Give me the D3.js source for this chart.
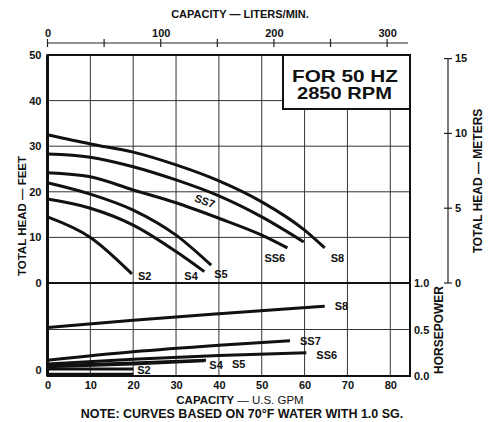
<!DOCTYPE html>
<html>
<head>
<meta charset="utf-8">
<script src="https://cdn.jsdelivr.net/npm/d3@7"></script>
<style>
  body { margin: 0; background: #fff; }
  svg { display: block; font-family: "Liberation Sans", Arial, sans-serif; }
  text { fill: #111; font-weight: bold; }
</style>
</head>
<body>
<script>
// head curves: [gpm, feet]
var headS8  = [[0,32.5],[10,30.5],[20,28.7],[30,25.9],[40,22.4],[50,17.8],[60,11.6],[64.7,7.7]];
var headSS7 = [[0,28.3],[10,27.6],[20,25.5],[30,22.6],[40,19.1],[50,14.5],[59.8,9.0]];
var headSS6 = [[0,24.2],[10,23.3],[20,20.4],[30,17.6],[40,14.2],[50,10.5],[56,7.7]];
var headS5  = [[0,22.0],[10,19.5],[20,16.0],[30,10.5],[38.2,3.9]];
var headS4  = [[0,18.4],[10,16.4],[20,12.7],[30,6.9],[36.6,2.5]];
var headS2  = [[0,14.5],[10,10.0],[19.7,2.0]];

// horsepower curves: [gpm, hp]
var hpS8  = [[0,0.52],[20,0.60],[40,0.67],[64.7,0.75]];
var hpSS7 = [[0,0.17],[20,0.26],[40,0.33],[56.6,0.38]];
var hpSS6 = [[0,0.13],[20,0.18],[40,0.22],[60.4,0.25]];
var hpS5  = [[0,0.11],[20,0.14],[37,0.17]];
var hpS4  = [[0,0.10],[20,0.13],[36.6,0.165]];
var hpS2  = [[0,0.075],[20,0.075]];
var hpS2b = [[0,0.02],[20,0.02]];

var gpmTicks = [0,10,20,30,40,50,60,70,80];
var ftTicks = [0,10,20,30,40,50];
var hpTicks = [0,0.5,1];
var lpmLabels = [0,100,200,300];
var lpmMarks = [0,50,100,150,200,250,300];
var meterTicks = [0,5,10,15];

width = 492; height = 422;

var svg = d3.select("body").append("svg")
    .attr("width", width).attr("height", height);

var x = d3.scaleLinear().domain([0, 84.6]).range([47.5, 410]);
var yFt = d3.scaleLinear().domain([0, 50]).range([283, 55]);
var yHp = d3.scaleLinear().domain([0, 1]).range([376, 283]);
var xL = d3.scaleLinear().domain([0, 84.6 * 3.785]).range(x.range());
var yM = d3.scaleLinear().domain([0, 15]).range([yFt(0), yFt(15 * 3.2808)]);

// grid
var grid = svg.append("g").attr("stroke", "#333").attr("stroke-width", 1);
grid.selectAll(".v").data(gpmTicks.slice(1)).join("line")
    .attr("x1", d => x(d)).attr("x2", d => x(d))
    .attr("y1", yFt(50)).attr("y2", yHp(0));
grid.selectAll(".h").data(ftTicks.slice(1, -1)).join("line")
    .attr("x1", x(0)).attr("x2", x.range()[1])
    .attr("y1", d => yFt(d)).attr("y2", d => yFt(d));
grid.append("line")
    .attr("x1", x(0)).attr("x2", x.range()[1])
    .attr("y1", yHp(0.5)).attr("y2", yHp(0.5));

// rating box
svg.append("rect")
    .attr("x", 283).attr("y", yFt(50)).attr("width", x.range()[1] - 283).attr("height", 54)
    .attr("fill", "#fff").attr("stroke", "#111").attr("stroke-width", 2);
svg.append("text").attr("x", 292).attr("y", 82)
    .attr("textLength", 106).attr("lengthAdjust", "spacingAndGlyphs")
    .style("font-size", "16.5px").text("FOR 50 HZ");
svg.append("text").attr("x", 297).attr("y", 99)
    .attr("textLength", 95).attr("lengthAdjust", "spacingAndGlyphs")
    .style("font-size", "16.5px").text("2850 RPM");

// frame
svg.append("rect")
    .attr("x", x(0)).attr("y", yFt(50))
    .attr("width", x.range()[1] - x(0)).attr("height", yHp(0) - yFt(50))
    .attr("fill", "none").attr("stroke", "#111").attr("stroke-width", 2);
svg.append("line").attr("x1", x(0)).attr("x2", x(0))
    .attr("y1", yFt(50)).attr("y2", yHp(0)).attr("stroke", "#111").attr("stroke-width", 3);
svg.append("line").attr("x1", x(0)).attr("x2", x.range()[1])
    .attr("y1", yFt(0)).attr("y2", yFt(0)).attr("stroke", "#111").attr("stroke-width", 2);

// curves
var headLine = d3.line().x(d => x(d[0])).y(d => yFt(d[1])).curve(d3.curveMonotoneX);
var hpLine = d3.line().x(d => x(d[0])).y(d => yHp(d[1])).curve(d3.curveMonotoneX);

var heads = [
  {name: "S8", pts: headS8, dx: 6, dy: 14},
  {name: "SS7", pts: headSS7, dx: null},
  {name: "SS6", pts: headSS6, dx: -23, dy: 14},
  {name: "S5", pts: headS5, dx: 3, dy: 13},
  {name: "S4", pts: headS4, dx: -20, dy: 8},
  {name: "S2", pts: headS2, dx: 6, dy: 6}
];
var hps = [
  {name: "S8", pts: hpS8, dx: 10, dy: 4},
  {name: "SS7", pts: hpSS7, dx: 10, dy: 4},
  {name: "SS6", pts: hpSS6, dx: 10, dy: 6},
  {name: "S5", pts: hpS5, dx: 26, dy: 8},
  {name: "S4", pts: hpS4, dx: 5, dy: 8},
  {name: "S2", pts: hpS2, dx: 4, dy: 5},
  {name: "", pts: hpS2b, dx: 0, dy: 0}
];

svg.append("g").selectAll("path").data(heads).join("path")
    .attr("d", d => headLine(d.pts))
    .attr("fill", "none").attr("stroke", "#111").attr("stroke-width", 3)
    .attr("stroke-linecap", "butt");
svg.append("g").selectAll("path").data(hps).join("path")
    .attr("d", d => hpLine(d.pts))
    .attr("fill", "none").attr("stroke", "#111").attr("stroke-width", 3);

var lbl = svg.append("g").style("font-size", "11px");
heads.filter(d => d.dx !== null).forEach(function(d) {
  var e = d.pts[d.pts.length - 1];
  lbl.append("text").attr("x", x(e[0]) + d.dx).attr("y", yFt(e[1]) + d.dy).text(d.name);
});
lbl.append("text")
    .attr("transform", `translate(${x(36.4)},${yFt(20.2) + 14}) rotate(20)`)
    .attr("text-anchor", "middle").text("SS7");
hps.filter(d => d.name).forEach(function(d) {
  var e = d.pts[d.pts.length - 1];
  lbl.append("text").attr("x", x(e[0]) + d.dx).attr("y", yHp(e[1]) + d.dy).text(d.name);
});

// axes
var leftAxis = svg.append("g")
    .attr("transform", `translate(${x(0)},0)`)
    .call(d3.axisLeft(yFt).tickValues(ftTicks).tickSize(0).tickPadding(6))
    .call(g => g.select(".domain").remove());
leftAxis.selectAll("text").style("font-size", "11px").style("font-family", "Liberation Sans");
svg.append("text").attr("x", x(0) - 6).attr("y", yHp(0.06)).attr("dy", "0.35em")
    .attr("text-anchor", "end").style("font-size", "11px").text("0");

var bottomAxis = svg.append("g")
    .attr("transform", `translate(0,${yHp(0)})`)
    .call(d3.axisBottom(x).tickValues(gpmTicks).tickSize(0).tickPadding(5))
    .call(g => g.select(".domain").remove());
bottomAxis.selectAll("text").style("font-size", "11px").style("font-family", "Liberation Sans");

var hpAxis = svg.append("g")
    .attr("transform", `translate(${x.range()[1]},0)`)
    .call(d3.axisRight(yHp).tickValues(hpTicks).tickSize(0).tickPadding(4).tickFormat(d3.format(".1f")))
    .call(g => g.select(".domain").remove());
hpAxis.selectAll("text").style("font-size", "11px").style("font-family", "Liberation Sans");

// top liters/min axis
var topY = 43;
svg.append("line").attr("x1", xL(0)).attr("x2", 408).attr("y1", topY).attr("y2", topY)
    .attr("stroke", "#222").attr("stroke-width", 1);
svg.append("g").selectAll("line").data(lpmMarks).join("line")
    .attr("x1", d => xL(d)).attr("x2", d => xL(d))
    .attr("y1", topY - 4).attr("y2", topY + 4).attr("stroke", "#222").attr("stroke-width", 1.2);
var topAxis = svg.append("g")
    .attr("transform", `translate(0,${topY})`)
    .call(d3.axisTop(xL).tickValues(lpmLabels).tickSize(0).tickPadding(6))
    .call(g => g.select(".domain").remove());
topAxis.selectAll("text").style("font-size", "11px").style("font-family", "Liberation Sans");

// right meters axis
var mX = 448;
svg.append("line").attr("x1", mX).attr("x2", mX).attr("y1", yM(0)).attr("y2", yM(15))
    .attr("stroke", "#222").attr("stroke-width", 1.2);
svg.append("g").selectAll("line").data(meterTicks).join("line")
    .attr("x1", mX - 4).attr("x2", mX + 4)
    .attr("y1", d => yM(d)).attr("y2", d => yM(d)).attr("stroke", "#222").attr("stroke-width", 1.2);
svg.append("g").selectAll("text").data(meterTicks).join("text")
    .attr("x", mX + 7).attr("y", d => yM(d)).attr("dy", "0.35em")
    .style("font-size", "11px").text(d => d);

// titles
svg.append("text").attr("x", 240).attr("y", 18).attr("text-anchor", "middle")
    .style("font-size", "11px").text("CAPACITY — LITERS/MIN.");
svg.append("text").attr("transform", "translate(26,216) rotate(-90)").attr("text-anchor", "middle")
    .style("font-size", "11.5px").text("TOTAL HEAD — FEET");
svg.append("text").attr("transform", "translate(482,181) rotate(-90)").attr("text-anchor", "middle")
    .style("font-size", "12px").text("TOTAL HEAD — METERS");
svg.append("text").attr("transform", "translate(443,330) rotate(-90)").attr("text-anchor", "middle")
    .style("font-size", "12px").text("HORSEPOWER");
var xt = svg.append("text").attr("x", 240).attr("y", 404).attr("text-anchor", "middle")
    .style("font-size", "11.5px");
xt.append("tspan").text("CAPACITY ");
xt.append("tspan").style("font-weight", "normal").text("— U.S. GPM");
svg.append("text").attr("x", 242).attr("y", 418).attr("text-anchor", "middle")
    .style("font-size", "12.5px").text("NOTE:  CURVES BASED ON 70°F WATER WITH 1.0 SG.");
</script>
</body>
</html>
